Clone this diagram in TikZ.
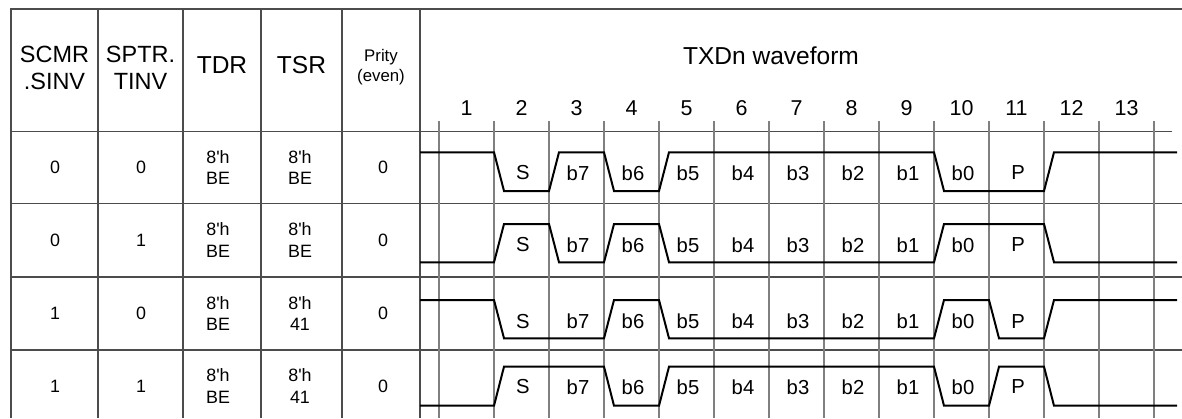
\documentclass[tikz,border=0pt]{standalone}
\usepackage{fontspec}
\setmainfont{Liberation Sans}[Ligatures=TeXOff]

\begin{document}
\begin{tikzpicture}[
    x=0.75pt, y=-0.75pt,
    every node/.style={inner sep=0pt, align=center},
    grid/.style={draw=black!70, line width=0.8pt},
    tick/.style={draw=black!50, line width=0.9pt},
    wave/.style={draw=black, line width=1.5pt},
    head/.style={font=\fontsize{17.6}{20}\selectfont},
    bighead/.style={font=\fontsize{18.4}{22}\selectfont},
    smallhead/.style={font=\fontsize{12.6}{14.5}\selectfont},
    cell/.style={font=\fontsize{13.4}{16}\selectfont},
    slotnum/.style={font=\fontsize{16.1}{19}\selectfont},
    bitlbl/.style={font=\fontsize{15.2}{18}\selectfont}
]
\useasboundingbox (0,0) rectangle (1182,418);

% Tabela
\draw[grid] (11,418) -- (11,9) -- (1182,9);
\foreach \x in {98,183,261,342,420} \draw[grid] (\x,9) -- (\x,418);
\draw[grid] (11,131.7) -- (1172,131.7);
\foreach \y in {203.3,277,350} \draw[grid] (11,\y) -- (1182,\y);

% Marcas dos bits
\foreach \k in {0,...,13} \draw[tick] ({439+55*\k},121) -- ({439+55*\k},418);

% Cabecalho
\node[head] (hsinv) at (54.5,68) {SCMR\\.SINV};
\node[head] (htinv) at (140.5,68) {SPTR.\\TINV};
\node[bighead] (htdr) at (222,65) {TDR};
\node[bighead] (htsr) at (301.5,65) {TSR};
\node[smallhead] (hpar) at (381,67) {Prity\\(even)};
\node[bighead] (hwave) at (771,55.5) {TXDn waveform};
\foreach \k in {1,...,13} \node[slotnum] (n\k) at ({411.5+55*\k},108) {\k};

% Valores
\foreach \r/\yc/\vs/\vt/\vr in {1/167.5/0/0/BE, 2/240/0/1/BE, 3/313.5/1/0/41, 4/386/1/1/41} {
  \node[cell] (sinv\r) at (55,\yc) {\vs};
  \node[cell] (tinv\r) at (141,\yc) {\vt};
  \node[cell] (tdr\r) at (218,\yc) {8'h\\BE};
  \node[cell] (tsr\r) at (300,\yc) {8'h\\\vr};
  \node[cell] (par\r) at (383,\yc) {0};
}

% Formas de onda
\draw[wave] (420,152.3) -- (494,152.3) -- (504,191) -- (549,191) -- (559,152.3) -- (604,152.3)
  -- (614,191) -- (659,191) -- (669,152.3) -- (934,152.3) -- (944,191) -- (1044,191)
  -- (1054,152.3) -- (1177,152.3);
\draw[wave] (420,262.3) -- (494,262.3) -- (504,224) -- (549,224) -- (559,262.3) -- (604,262.3)
  -- (614,224) -- (659,224) -- (669,262.3) -- (934,262.3) -- (944,224) -- (1044,224)
  -- (1054,262.3) -- (1177,262.3);
\draw[wave] (420,300) -- (494,300) -- (504,338.3) -- (604,338.3) -- (614,300) -- (659,300)
  -- (669,338.3) -- (934,338.3) -- (944,300) -- (989,300) -- (999,338.3) -- (1044,338.3)
  -- (1054,300) -- (1177,300);
\draw[wave] (420,405.7) -- (494,405.7) -- (504,366.7) -- (604,366.7) -- (614,405.7) -- (659,405.7)
  -- (669,366.7) -- (934,366.7) -- (944,405.7) -- (989,405.7) -- (999,366.7) -- (1044,366.7)
  -- (1054,405.7) -- (1177,405.7);

% Rotulos dos bits
\foreach \r/\ym in {1/173, 2/245, 3/321.5, 4/387}
  \foreach \lab [count=\k from 2] in {S,b7,b6,b5,b4,b3,b2,b1,b0,P}
    \node[bitlbl] (b\r-\k) at ({413+55*\k},\ym) {\lab};

\end{tikzpicture}
\end{document}
